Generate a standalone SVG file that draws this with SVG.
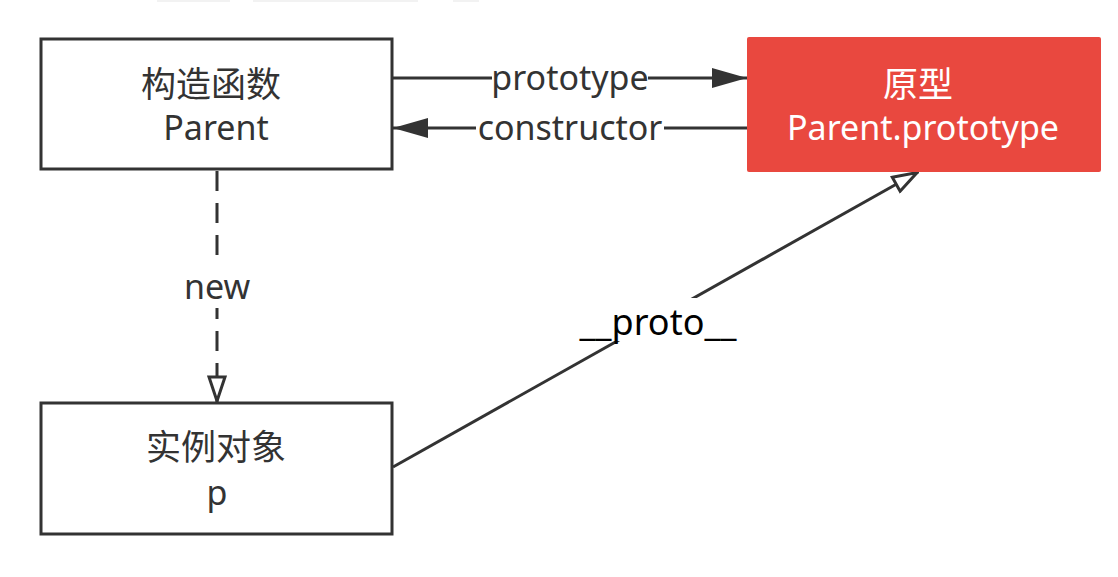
<svg xmlns="http://www.w3.org/2000/svg" width="1118" height="577" viewBox="0 0 1118 577">
<style>
.box{fill:#fff;stroke:#333;stroke-width:3}
.t{font-family:"Noto Sans","Noto Sans CJK SC",sans-serif;font-size:34px;fill:#333;text-anchor:middle}
.cj{font-family:"Noto Sans CJK SC",sans-serif;font-size:35px;fill:#333;text-anchor:middle}
.w{fill:#fff}
.ln{stroke:#333;stroke-width:3;fill:none}
</style>
<defs>
<marker id="solid" viewBox="0 0 35 20" refX="35" refY="10" markerWidth="35" markerHeight="20" markerUnits="userSpaceOnUse" orient="auto">
<path d="M0,0 L35,10 L0,20 Z" fill="#333"/>
</marker>
<marker id="hollow" viewBox="0 0 28 20" refX="27" refY="10" markerWidth="28" markerHeight="20" markerUnits="userSpaceOnUse" orient="auto">
<path d="M2,2 L26,10 L2,18 Z" fill="#fff" stroke="#333" stroke-width="3"/>
</marker>
</defs>
<rect width="1118" height="577" fill="#fff"/>
<g fill="#f2f2f2">
<rect x="157" y="0" width="73" height="2"/>
<rect x="253" y="0" width="165" height="2"/>
<rect x="453" y="0" width="26" height="2"/>
</g>
<g id="connectors">
<line class="ln" x1="392" y1="78" x2="747" y2="78" marker-end="url(#solid)"/>
<line class="ln" x1="747" y1="128" x2="393" y2="128" marker-end="url(#solid)"/>
<line class="ln" x1="217" y1="171" x2="217" y2="402" stroke-dasharray="20 12" marker-end="url(#hollow)"/>
<line class="ln" x1="393" y1="467" x2="918" y2="172" marker-end="url(#hollow)"/>
<rect class="w" x="492" y="64" width="156" height="30"/>
<text class="t" x="570" y="90">prototype</text>
<rect class="w" x="476" y="114" width="188" height="30"/>
<text class="t" x="570" y="140">constructor</text>
<rect class="w" x="182" y="263" width="70" height="45"/>
<text class="t" x="217" y="299">new</text>
<rect class="w" x="578" y="298" width="160" height="43"/>
<text class="t" x="658" y="335" style="fill:#000;font-size:36px">__proto__</text>
</g>
<g id="node-constructor">
<rect class="box" x="41" y="39" width="351" height="130"/>
<text class="cj" x="211" y="97">构造函数</text>
<text class="t" x="216" y="140">Parent</text>
</g>
<g id="node-prototype">
<rect x="747" y="37" width="354" height="135" rx="2" fill="#E9483F"/>
<text class="cj" x="918" y="97" style="fill:#fff">原型</text>
<text class="t" x="923" y="140" style="fill:#fff">Parent.prototype</text>
</g>
<g id="node-instance">
<rect class="box" x="41" y="403" width="351" height="131"/>
<text class="cj" x="216" y="460">实例对象</text>
<text class="t" x="217" y="505">p</text>
</g>
</svg>
